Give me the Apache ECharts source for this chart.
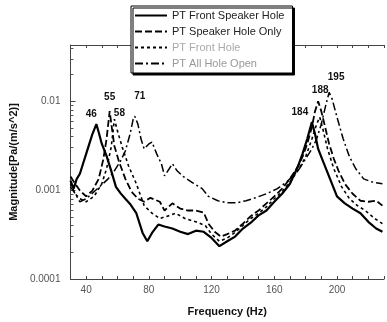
<!DOCTYPE html>
<html>
<head>
<meta charset="utf-8">
<script src="https://cdn.jsdelivr.net/npm/echarts@6/dist/echarts.min.js"></script>
<style>
  html, body { margin: 0; padding: 0; background: #fff; }
  #chart { width: 387px; height: 322px; }
</style>
</head>
<body>
<div id="chart"></div>
<script>
// series names
var names = ['PT Front Speaker Hole', 'PT Speaker Hole Only', 'PT Front Hole', 'PT All Hole Open'];

// PT Front Speaker Hole (solid)
var freqFront = [30, 32, 34, 36, 38, 40, 42, 44, 46.5, 48, 50, 53, 56, 59, 62, 65, 68, 72, 76, 79, 82, 86, 90, 95, 100, 105, 110, 115, 120, 125, 130, 135, 140, 145, 150, 155, 160, 165, 170, 175, 178, 181, 184, 186, 188, 191, 195, 200, 205, 210, 215, 220, 225, 229];
var magFront = [0.00128, 0.00104, 0.00134, 0.00153, 0.00198, 0.00256, 0.00331, 0.00428, 0.00553, 0.00448, 0.00331, 0.00243, 0.00165, 0.00109, 0.00092, 0.0008, 0.0007, 0.00055, 0.00033, 0.000266, 0.00033, 0.00041, 0.00039, 0.00037, 0.00034, 0.00032, 0.00035, 0.00034, 0.00029, 0.000234, 0.000266, 0.0003, 0.00037, 0.00043, 0.00052, 0.00059, 0.00074, 0.00091, 0.00118, 0.00183, 0.00256, 0.00376, 0.00583, 0.00428, 0.00291, 0.00214, 0.00142, 0.00085, 0.00071, 0.00062, 0.00055, 0.00044, 0.00037, 0.00034];

// PT Speaker Hole Only (dashed)
var freqSpeaker = [30, 33, 36, 40, 44, 48, 51, 53, 55, 56.5, 58, 61, 65, 69, 73, 77, 81, 84, 87, 90, 95, 100, 105, 110, 115, 118, 122, 126, 130, 135, 140, 145, 150, 155, 160, 165, 170, 175, 178, 181, 184, 186, 188, 190, 192, 195, 198, 201, 205, 210, 215, 220, 225, 229];
var magSpeaker = [0.00142, 0.00118, 0.00099, 0.00085, 0.00099, 0.00134, 0.00225, 0.00376, 0.00773, 0.00487, 0.00314, 0.00208, 0.00134, 0.00096, 0.0008, 0.00074, 0.00082, 0.00078, 0.00074, 0.00059, 0.00071, 0.00062, 0.00059, 0.00059, 0.00056, 0.00042, 0.00034, 0.0003, 0.00032, 0.00035, 0.00042, 0.00051, 0.00059, 0.00071, 0.00085, 0.00104, 0.00134, 0.00183, 0.00237, 0.00331, 0.00512, 0.00773, 0.0100, 0.00773, 0.00553, 0.00331, 0.00225, 0.00165, 0.00118, 0.00091, 0.00076, 0.00074, 0.00076, 0.00067];

// PT Front Hole (short dash)
var freqHole = [30, 33, 36, 40, 45, 50, 53, 56, 58, 60, 63, 67, 72, 77, 82, 87, 92, 97, 103, 110, 116, 120, 125, 130, 135, 140, 145, 150, 155, 160, 165, 170, 175, 180, 184, 187, 189, 191, 194, 198, 203, 208, 213, 218, 224, 229];
var magHole = [0.00118, 0.00091, 0.0008, 0.00074, 0.00085, 0.00118, 0.00174, 0.00306, 0.00629, 0.00462, 0.00306, 0.00188, 0.00118, 0.00067, 0.00055, 0.00048, 0.00051, 0.00055, 0.00048, 0.00044, 0.0004, 0.00032, 0.000266, 0.00029, 0.000335, 0.0004, 0.00048, 0.00055, 0.00065, 0.0008, 0.00096, 0.00124, 0.00165, 0.00237, 0.00376, 0.00553, 0.00663, 0.00487, 0.00291, 0.00174, 0.00109, 0.0008, 0.00067, 0.00059, 0.00048, 0.00042];

// PT All Hole Open (dash-dot)
var freqOpen = [30, 33, 36, 40, 45, 50, 54, 58, 62, 65, 68, 70, 71, 73, 75, 77, 80, 82, 85, 88, 90, 93, 95, 98, 102, 108, 114, 118, 124, 130, 136, 142, 148, 155, 162, 168, 172, 176, 180, 184, 187, 190, 193, 195, 197, 200, 204, 208, 212, 217, 222, 229];
var magOpen = [0.00109, 0.00091, 0.00074, 0.0008, 0.00096, 0.00115, 0.00134, 0.00165, 0.00214, 0.00276, 0.00428, 0.00629, 0.0068, 0.00553, 0.00376, 0.00291, 0.00331, 0.00348, 0.00256, 0.00198, 0.00145, 0.00174, 0.00198, 0.00165, 0.00142, 0.00121, 0.00104, 0.00085, 0.00076, 0.00072, 0.00072, 0.00076, 0.00082, 0.00091, 0.00104, 0.00124, 0.00145, 0.00174, 0.00225, 0.00291, 0.00376, 0.00553, 0.00926, 0.0126, 0.0105, 0.00663, 0.00376, 0.00237, 0.00174, 0.00134, 0.00124, 0.00118];

// peak labels: [freq, magnitude, text]
var peaksFront = [[46.5, 0.00553, '46'], [184, 0.00583, '184']];
var peaksSpeaker = [[55, 0.00773, '55'], [188, 0.0100, '188']];
var peaksHole = [[58, 0.00629, '58']];
var peaksOpen = [[71, 0.0068, '71'], [195, 0.0126, '195']];
// label offsets (px)
var offsets = { '46': [-5, -10], '184': [-12, -10], '55': [0, -14], '188': [2, -11], '58': [5, -6], '71': [5, -20], '195': [7, -15] };

// axis ticks
var yTickLabels = { '-4': '0.0001', '-3': '0.001', '-2': '0.01' };
var xLabelValues = [40, 80, 120, 160, 200];

function pairs(fs, ms) {
  return fs.map(function (f, i) { return [f, ms[i]]; });
}
function marks(list) {
  return {
    symbol: 'circle',
    symbolSize: 0,
    silent: true,
    label: { show: true, position: 'inside', color: '#111', fontSize: 10, fontWeight: 'bold', fontFamily: 'Liberation Sans' },
    data: list.map(function (p) {
      return { coord: [p[0], p[1]], value: p[2], label: { formatter: p[2], offset: offsets[p[2]] } };
    })
  };
}

var yMax = 0.043;
var minorTicks = [];
for (var d = -4; d <= -2; d++) {
  for (var k = 2; k <= 9; k++) {
    var lv = Math.log10(k * Math.pow(10, d));
    if (lv < Math.log10(yMax)) minorTicks.push(lv);
  }
}

var chart = echarts.init(document.getElementById('chart'));
chart.setOption({
  animation: false,
  backgroundColor: '#fff',
  textStyle: { fontFamily: 'Liberation Sans' },
  legend: {
    orient: 'vertical',
    left: 131,
    top: 6,
    itemWidth: 32,
    itemHeight: 11,
    itemGap: 5,
    padding: [4, 8, 4, 3],
    backgroundColor: '#fff',
    borderColor: '#000',
    borderWidth: 1,
    shadowColor: '#000',
    shadowOffsetX: 2,
    shadowOffsetY: 2,
    shadowBlur: 0,
    itemStyle: { opacity: 0 },
    textStyle: { fontSize: 11, color: '#222' },
    data: [
      { name: names[0] },
      { name: names[1] },
      { name: names[2], textStyle: { color: '#aaa' } },
      { name: names[3], textStyle: { color: '#999' } }
    ]
  },
  grid: { left: 63, top: 45, width: 326, height: 235 },
  xAxis: [
    {
      type: 'value',
      min: 30,
      max: 230,
      interval: 10,
      name: 'Frequency (Hz)',
      nameLocation: 'middle',
      nameGap: 27,
      nameTextStyle: { fontSize: 11, fontWeight: 'bold', color: '#111' },
      axisLine: { lineStyle: { color: '#444', width: 1 } },
      axisTick: { inside: true, length: 3, lineStyle: { color: '#444' } },
      axisLabel: {
        interval: 0,
        margin: 6,
        fontSize: 10,
        color: '#555',
        formatter: function (v) { return xLabelValues.indexOf(v) >= 0 ? String(v) : ''; }
      },
      splitLine: { show: false }
    },
    {
      type: 'value',
      position: 'top',
      min: 30,
      max: 230,
      interval: 10,
      axisLine: { lineStyle: { color: '#444', width: 1 } },
      axisTick: { inside: true, length: 3, lineStyle: { color: '#444' } },
      axisLabel: { show: false },
      splitLine: { show: false }
    }
  ],
  yAxis: [
    {
      type: 'log',
      logBase: 10,
      min: 0.0001,
      max: yMax,
      name: 'Magnitude[Pa/(m/s^2)]',
      nameLocation: 'middle',
      nameGap: 42,
      nameTextStyle: { fontSize: 11, fontWeight: 'bold', color: '#111' },
      axisLine: { show: true, lineStyle: { color: '#444', width: 1 } },
      axisTick: { inside: true, length: 5, lineStyle: { color: '#444' } },
      axisLabel: {
        showMaxLabel: false,
        margin: 10,
        fontSize: 10,
        color: '#555',
        formatter: function (v) { return yTickLabels[String(Math.round(Math.log10(v)))] || ''; }
      },
      splitLine: { show: false }
    },
    {
      type: 'value',
      position: 'left',
      min: -4,
      max: Math.log10(yMax),
      axisLine: { show: false },
      axisTick: { show: true, inside: true, length: 3, customValues: minorTicks, lineStyle: { color: '#555' } },
      axisLabel: { show: false },
      splitLine: { show: false }
    }
  ],
  series: [
    {
      name: names[0], type: 'line', symbol: 'none', data: pairs(freqFront, magFront),
      lineStyle: { color: '#000', width: 2.2, type: 'solid' }, itemStyle: { color: '#000' },
      markPoint: marks(peaksFront)
    },
    {
      name: names[1], type: 'line', symbol: 'none', data: pairs(freqSpeaker, magSpeaker),
      lineStyle: { color: '#000', width: 1.8, type: [7, 3] }, itemStyle: { color: '#000' },
      markPoint: marks(peaksSpeaker)
    },
    {
      name: names[2], type: 'line', symbol: 'none', data: pairs(freqHole, magHole),
      lineStyle: { color: '#000', width: 1.6, type: [3, 3] }, itemStyle: { color: '#000' },
      markPoint: marks(peaksHole)
    },
    {
      name: names[3], type: 'line', symbol: 'none', data: pairs(freqOpen, magOpen),
      lineStyle: { color: '#000', width: 1.5, type: [8, 3, 2, 3] }, itemStyle: { color: '#000' },
      markPoint: marks(peaksOpen)
    }
  ]
});
</script>
</body>
</html>
